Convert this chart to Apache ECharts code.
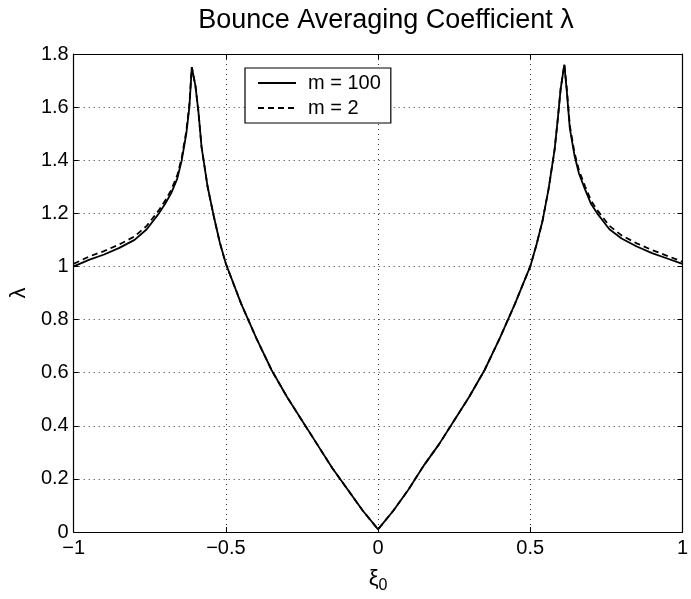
<!DOCTYPE html>
<html><head><meta charset="utf-8">
<script src="https://cdn.jsdelivr.net/npm/echarts@6/dist/echarts.min.js"></script>
<style>html,body{margin:0;padding:0;background:#fff}#c{width:691px;height:599px}</style>
</head><body><div id="c"></div>
<script>
const xi = [-1,-0.95,-0.9,-0.85,-0.8,-0.76,-0.72,-0.7,-0.68,-0.66,-0.645,-0.63,-0.62,-0.612,-0.6,-0.59,-0.58,-0.56,-0.54,-0.52,-0.5,-0.45,-0.4,-0.35,-0.3,-0.25,-0.2,-0.15,-0.1,-0.05,0,0.05,0.1,0.15,0.2,0.25,0.3,0.35,0.4,0.45,0.5,0.52,0.54,0.56,0.58,0.59,0.6,0.612,0.62,0.63,0.645,0.66,0.68,0.7,0.72,0.76,0.8,0.85,0.9,0.95,1];
const m100 = [1.00,1.025,1.045,1.07,1.10,1.14,1.20,1.235,1.275,1.33,1.40,1.50,1.60,1.75,1.68,1.58,1.45,1.30,1.19,1.09,1.01,0.86,0.73,0.61,0.51,0.42,0.33,0.24,0.16,0.08,0.01,0.08,0.16,0.25,0.33,0.42,0.51,0.61,0.73,0.86,1.00,1.08,1.17,1.29,1.44,1.55,1.67,1.76,1.66,1.52,1.42,1.35,1.29,1.235,1.20,1.14,1.105,1.075,1.05,1.03,1.01];
const m2 = [1.01,1.037,1.058,1.083,1.113,1.153,1.212,1.247,1.287,1.342,1.41,1.51,1.61,1.75,1.68,1.58,1.45,1.30,1.19,1.09,1.01,0.86,0.73,0.61,0.51,0.42,0.33,0.24,0.16,0.08,0.01,0.08,0.16,0.25,0.33,0.42,0.51,0.61,0.73,0.86,1.00,1.08,1.17,1.29,1.44,1.55,1.67,1.76,1.67,1.53,1.43,1.362,1.302,1.247,1.212,1.153,1.117,1.087,1.062,1.04,1.018];
const seriesNames = ['m = 100', 'm = 2'];
const titleText = 'Bounce Averaging Coefficient \u03bb';

const F = '"Liberation Sans", Arial, Helvetica, sans-serif';
const pairs = ys => xi.map((x, i) => [x, ys[i]]);
const gridLine = {show: true, lineStyle: {color: '#333', type: [1, 4], width: 1}};
const fmt = v => (v < 0 ? '\u2212' + String(-v) : String(v));

const chart = echarts.init(document.getElementById('c'), null, {renderer: 'canvas'});
chart.setOption({
  animation: false,
  backgroundColor: '#fff',
  title: {text: titleText, left: 381, textAlign: 'center', top: 2,
    textStyle: {fontFamily: F, fontSize: 27, fontWeight: 'normal', color: '#000'}},
  grid: {left: 72, right: 0, top: 54, bottom: 62, containLabel: false},
  legend: {
    orient: 'vertical', left: 245, top: 68,
    backgroundColor: '#fff', borderColor: '#000', borderWidth: 1.2, borderRadius: 0,
    padding: [5, 10, 5, 12], itemGap: 5, itemWidth: 38, itemHeight: 14,
    itemStyle: {color: 'rgba(0,0,0,0)', borderWidth: 0, opacity: 0},
    textStyle: {fontFamily: F, fontSize: 20, color: '#000', padding: [0, 0, 0, 7]},
    data: seriesNames
  },
  xAxis: [{
    type: 'value', min: -1, max: 1, interval: 0.5,
    axisLine: {show: true, onZero: false, lineStyle: {color: '#000', width: 1.2}},
    axisTick: {show: true, inside: true, length: 5, lineStyle: {color: '#000'}},
    axisLabel: {fontFamily: F, fontSize: 20, color: '#000', margin: 6, formatter: fmt},
    splitLine: gridLine,
    name: '{a|\u03be}{s|0}', nameLocation: 'middle', nameGap: 32,
    nameTextStyle: {rich: {
      a: {fontFamily: F, fontSize: 22, color: '#000'},
      s: {fontFamily: F, fontSize: 16, color: '#000', padding: [14, 0, 0, 0]}
    }}
  }, {
    type: 'value', position: 'top', min: -1, max: 1, interval: 0.5,
    axisLine: {show: true, onZero: false, lineStyle: {color: '#000', width: 1.2}},
    axisTick: {show: true, inside: true, length: 5, lineStyle: {color: '#000'}},
    axisLabel: {show: false}, splitLine: {show: false}
  }],
  yAxis: [{
    type: 'value', min: 0, max: 1.8, interval: 0.2,
    axisLine: {show: true, onZero: false, lineStyle: {color: '#000', width: 1.2}},
    axisTick: {show: true, inside: true, length: 5, lineStyle: {color: '#000'}},
    axisLabel: {fontFamily: F, fontSize: 20, color: '#000', margin: 5,
      formatter: v => String(Math.round(v * 10) / 10)},
    splitLine: gridLine,
    name: '\u03bb', nameLocation: 'middle', nameGap: 40, nameRotate: 90,
    nameTextStyle: {fontFamily: F, fontSize: 22, color: '#000'}
  }, {
    type: 'value', position: 'right', min: 0, max: 1.8, interval: 0.2,
    axisLine: {show: true, onZero: false, lineStyle: {color: '#000', width: 1.2}},
    axisTick: {show: true, inside: true, length: 5, lineStyle: {color: '#000'}},
    axisLabel: {show: false}, splitLine: {show: false}
  }],
  series: [{
    name: seriesNames[0], type: 'line', data: pairs(m100), symbol: 'none', smooth: false,
    lineStyle: {color: '#000', width: 1.8, type: 'solid'}, itemStyle: {color: '#000'}, z: 3
  }, {
    name: seriesNames[1], type: 'line', data: pairs(m2), symbol: 'none', smooth: false,
    lineStyle: {color: '#000', width: 1.8, type: [6, 4]}, itemStyle: {color: '#000'}, z: 2
  }]
});
</script></body></html>
